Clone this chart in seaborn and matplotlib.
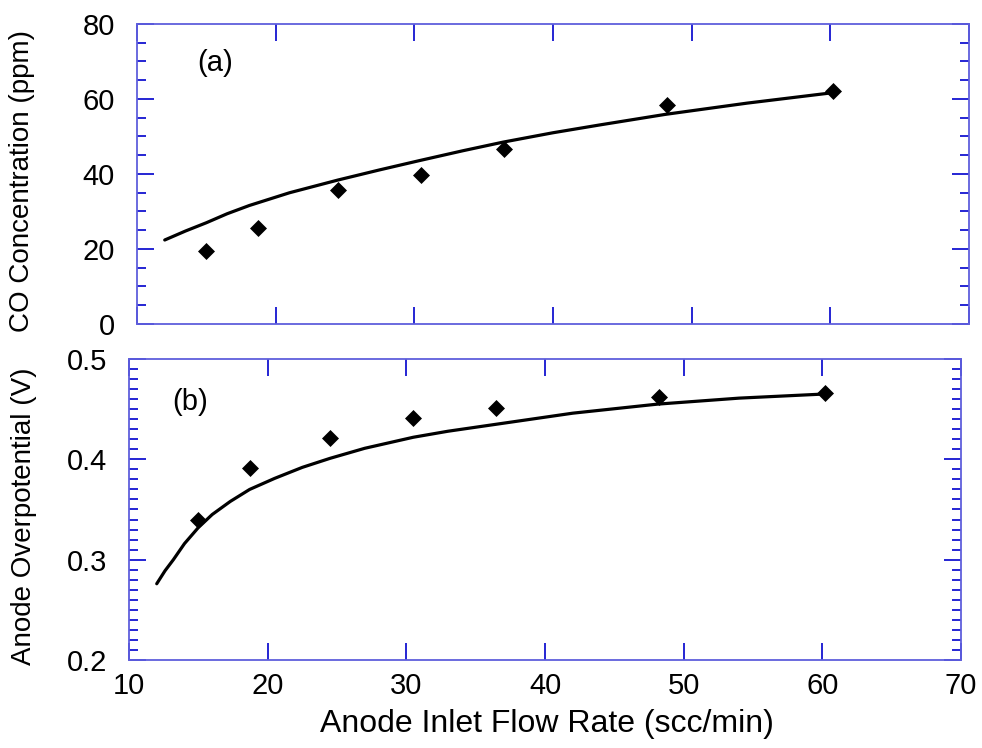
import matplotlib
matplotlib.use("Agg")
import matplotlib.pyplot as plt
from matplotlib.ticker import MultipleLocator, FormatStrFormatter
import seaborn as sns
import pandas as pd

# ---- data ----
flow_pts = [15.0, 18.7, 24.5, 30.5, 36.5, 48.2, 60.2]
co_pts = [19.5, 25.6, 35.7, 39.7, 46.7, 58.4, 62.1]
eta_pts = [0.340, 0.391, 0.421, 0.441, 0.451, 0.462, 0.466]

co_fit_x = [12.0, 13.5, 15.0, 16.5, 18.1, 21.0, 24.5, 27.5, 30.4, 33.5, 36.4,
            40.0, 43.4, 48.1, 54.0, 60.0]
co_fit_y = [22.4, 24.8, 27.0, 29.4, 31.6, 35.0, 38.4, 41.1, 43.6, 46.2, 48.5,
            51.0, 53.1, 55.9, 58.9, 61.6]

eta_fit_x = [12.0, 12.6, 13.2, 14.0, 15.0, 16.0, 17.3, 18.7, 20.5, 22.5, 24.5,
             27.0, 30.5, 33.0, 36.5, 42.0, 48.1, 54.0, 60.0]
eta_fit_y = [0.276, 0.289, 0.300, 0.316, 0.332, 0.345, 0.358, 0.370, 0.381,
             0.392, 0.401, 0.411, 0.422, 0.428, 0.435, 0.446, 0.455, 0.461, 0.465]

x_ticks = [10, 20, 30, 40, 50, 60, 70]
co_ticks = [0, 20, 40, 60, 80]
eta_ticks = [0.2, 0.3, 0.4, 0.5]

sns.set_theme(style="white")
plt.rcParams["font.family"] = ["Liberation Sans", "DejaVu Sans"]
plt.rcParams["text.color"] = "black"

W, H = 982, 748
fig = plt.figure(figsize=(W / 100, H / 100), dpi=100)

def frac(l, t, r, b):
    return [l / W, 1 - b / H, (r - l) / W, (b - t) / H]

ax1 = fig.add_axes(frac(137, 24, 969, 324))
ax2 = fig.add_axes(frac(129, 359, 961, 660))

spine_c = "#5f5fdc"
tick_c = "#0000cc"
tick_fs = 21

df_a = pd.DataFrame({"x": flow_pts, "y": co_pts})
df_af = pd.DataFrame({"x": co_fit_x, "y": co_fit_y})
df_b = pd.DataFrame({"x": flow_pts, "y": eta_pts})
df_bf = pd.DataFrame({"x": eta_fit_x, "y": eta_fit_y})

for ax, pts, fit in [(ax1, df_a, df_af), (ax2, df_b, df_bf)]:
    sns.lineplot(data=fit, x="x", y="y", ax=ax, color="black", linewidth=2.3)
    sns.scatterplot(data=pts, x="x", y="y", ax=ax, marker="D", s=75,
                    color="black", linewidth=0, zorder=5)
    ax.set_xlim(10, 70)
    ax.set_xticks(x_ticks)
    ax.set_xlabel("")
    ax.set_ylabel("")
    for s in ax.spines.values():
        s.set_color(spine_c)
        s.set_linewidth(1.3)
    ax.tick_params(which="both", direction="in", top=True, right=True,
                   bottom=True, left=True,
                   color=tick_c, labelsize=tick_fs, labelcolor="black")
    ax.tick_params(which="major", length=12, width=1.2)
    ax.tick_params(which="minor", length=6.5, width=1.2)
    ax.tick_params(axis="y", pad=16)
    ax.tick_params(axis="x", pad=9)

ax1.set_ylim(0, 80)
ax1.set_yticks(co_ticks)
ax1.yaxis.set_minor_locator(MultipleLocator(5))
ax1.tick_params(axis="x", labelbottom=False)

ax2.set_ylim(0.2, 0.5)
ax2.set_yticks(eta_ticks)
ax2.yaxis.set_minor_locator(MultipleLocator(0.01))
ax2.yaxis.set_major_formatter(FormatStrFormatter("%.1f"))

ax1.text(0.073, 0.87, "(a)", transform=ax1.transAxes, fontsize=21,
         ha="left", va="center", color="black")
ax2.text(0.052, 0.857, "(b)", transform=ax2.transAxes, fontsize=21,
         ha="left", va="center", color="black")

fig.text(22 / W, 1 - 181 / H, "CO Concentration (ppm)", rotation=90,
         ha="center", va="center", fontsize=20, color="black")
fig.text(24 / W, 1 - 516 / H, "Anode Overpotential (V)", rotation=90,
         ha="center", va="center", fontsize=20, color="black")
fig.text(547 / W, 1 - 724 / H, "Anode Inlet Flow Rate (scc/min)",
         ha="center", va="center", fontsize=23, color="black")

fig.savefig("out.png", dpi=100, facecolor="white")
